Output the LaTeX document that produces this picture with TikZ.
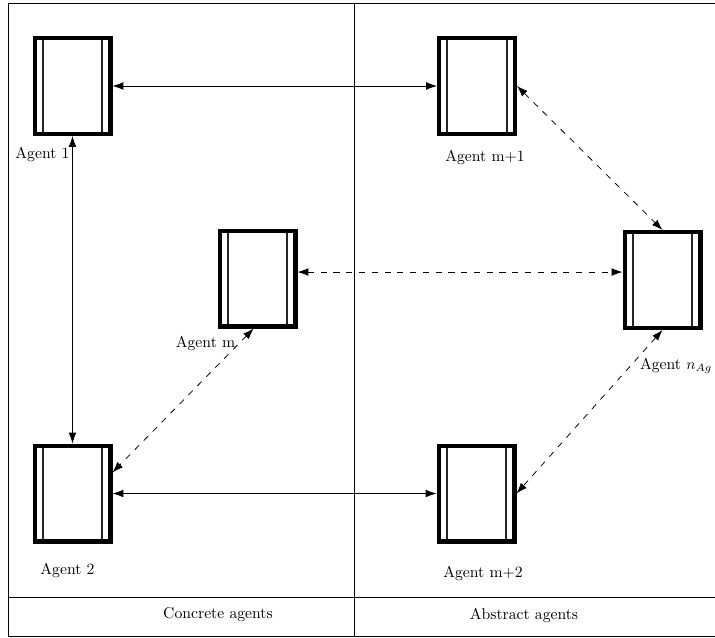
\documentclass[tikz,border=0pt]{standalone}
\usetikzlibrary{arrows.meta}
\begin{document}
\begin{tikzpicture}[x=0.65pt,y=-0.65pt,
  agent/.style={draw, line width=2.8pt, minimum width=49.2pt, minimum height=62.2pt, inner sep=0pt,
    path picture={
      \draw[line width=1.4pt, black!85]
        ([xshift=5.2pt]path picture bounding box.north west) -- ([xshift=5.2pt]path picture bounding box.south west)
        ([xshift=-5.2pt]path picture bounding box.north east) -- ([xshift=-5.2pt]path picture bounding box.south east);
    }},
  lbl/.style={font=\fontsize{10.2}{12}\selectfont, inner sep=0pt},
  frame/.style={line width=0.6pt},
  solidlink/.style={line width=0.5pt, {Latex[length=7pt,width=5pt]}-{Latex[length=7pt,width=5pt]}},
  dashlink/.style={line width=0.5pt, dash pattern=on 4pt off 4.3pt, {Latex[length=7pt,width=5pt]}-{Latex[length=7pt,width=5pt]}}
]
\useasboundingbox (0,0) rectangle (715,637);
% frame
\draw[frame] (720,3) -- (8,3) -- (8,636.5) -- (720,636.5);
\draw[frame] (354,3) -- (354,636.5);
\draw[frame] (8,597) -- (720,597);
\node[lbl] (concrete) at (218,615) {Concrete agents};
\node[lbl] (abstract) at (524,615) {Abstract agents};
% agents
\node[agent] (a1)   at (72.5,86) {};
\node[agent] (am1)  at (477,86) {};
\node[agent] (am)   at (257.5,278.5) {};
\node[agent] (anag) at (662.5,280) {};
\node[agent] (a2)   at (72.5,493.5) {};
\node[agent] (am2)  at (476.5,493.5) {};
% labels
\node[lbl] (l1)   at (42.5,154) {Agent 1};
\node[lbl] (lm1)  at (485,157) {Agent m+1};
\node[lbl] (lm)   at (205.5,343) {Agent m};
\node[lbl] (lnag) at (676,366) {Agent $n_{Ag}$};
\node[lbl] (l2)   at (67.5,570) {Agent 2};
\node[lbl] (lm2)  at (483,573) {Agent m+2};
% connectors
\draw[solidlink] (a1.east) -- (am1.west);
\draw[solidlink] (a1.south) -- (a2.north);
\draw[solidlink] (a2.east) -- (am2.west);
\draw[dashlink] ([yshift=4.2pt]am.east) -- ([yshift=4.2pt]am.east -| anag.west);
\draw[dashlink] (am1.east) -- (anag.north);
\draw[dashlink] ([xshift=-2.5pt]am.south) -- ([yshift=13.7pt]a2.east);
\draw[dashlink] (anag.south) -- (am2.east);
\end{tikzpicture}
\end{document}
